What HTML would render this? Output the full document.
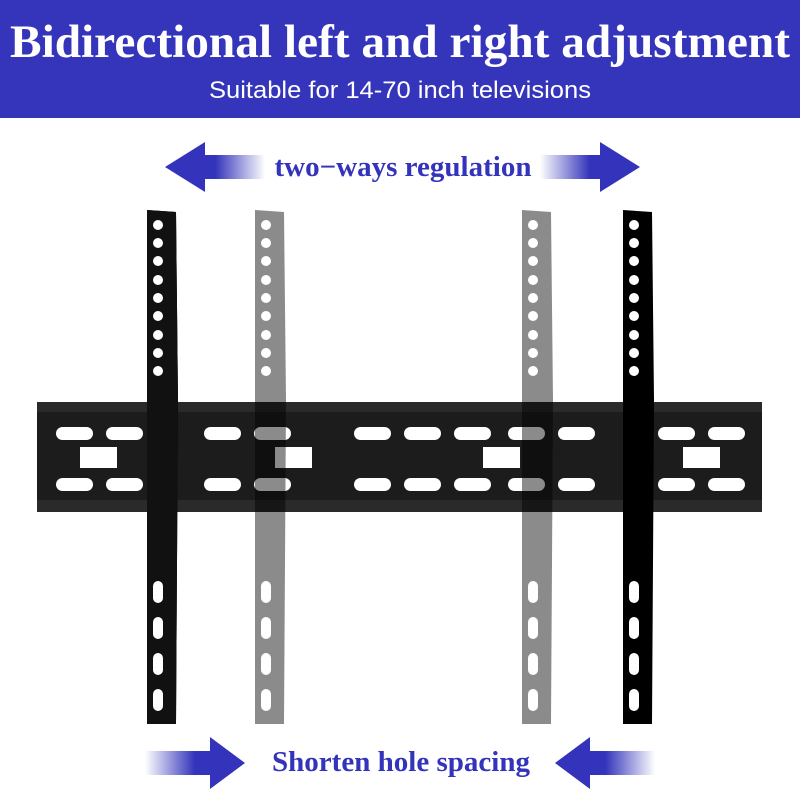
<!DOCTYPE html>
<html><head><meta charset="utf-8"><style>
html,body{margin:0;padding:0;background:#fff;width:800px;height:800px;overflow:hidden}
</style></head><body>
<svg width="800" height="800" viewBox="0 0 800 800" xmlns="http://www.w3.org/2000/svg">
<defs>
<linearGradient id="gl" x1="0" x2="1" y1="0" y2="0"><stop offset="0.5" stop-color="#3333bb"/><stop offset="1" stop-color="#3333bb" stop-opacity="0"/></linearGradient>
<linearGradient id="gr" x1="1" x2="0" y1="0" y2="0"><stop offset="0.5" stop-color="#3333bb"/><stop offset="1" stop-color="#3333bb" stop-opacity="0"/></linearGradient>
</defs>
<rect x="0" y="0" width="800" height="118" fill="#3535bb"/>
<text x="400" y="57" text-anchor="middle" font-family="Liberation Serif,serif" font-weight="bold" font-size="47" fill="#fff" textLength="780" lengthAdjust="spacingAndGlyphs">Bidirectional left and right adjustment</text>
<text x="400" y="98" text-anchor="middle" font-family="Liberation Sans,sans-serif" font-size="24" fill="#fff" textLength="382" lengthAdjust="spacingAndGlyphs">Suitable for 14-70 inch televisions</text>
<!-- top arrows -->
<polygon points="165,167 205,142 205,155 265,155 265,179 205,179 205,192" fill="url(#gl)"/>
<polygon points="640,167 600,142 600,155 540,155 540,179 600,179 600,192" fill="url(#gr)"/>
<text x="403" y="176" text-anchor="middle" font-family="Liberation Serif,serif" font-weight="bold" font-size="28" fill="#3333bb" textLength="257" lengthAdjust="spacingAndGlyphs">two−ways regulation</text>
<!-- bottom arrows -->
<polygon points="245,763 210,737 210,751 145,751 145,775 210,775 210,789" fill="url(#gr)"/>
<polygon points="555,763 590,737 590,751 655,751 655,775 590,775 590,789" fill="url(#gl)"/>
<text x="401" y="771" text-anchor="middle" font-family="Liberation Serif,serif" font-weight="bold" font-size="28" fill="#3333bb" textLength="258" lengthAdjust="spacingAndGlyphs">Shorten hole spacing</text>
<!-- rail -->
<rect x="37" y="402" width="725" height="110" fill="#1c1c1c"/>
<rect x="37" y="402" width="725" height="10" fill="#2a2a2a"/>
<rect x="37" y="500" width="725" height="12" fill="#2a2a2a"/>
<g fill="#fff">
<rect x="56" y="427" width="37" height="13" rx="6.5"/><rect x="106" y="427" width="37" height="13" rx="6.5"/><rect x="204" y="427" width="37" height="13" rx="6.5"/><rect x="254" y="427" width="37" height="13" rx="6.5"/><rect x="354" y="427" width="37" height="13" rx="6.5"/><rect x="404" y="427" width="37" height="13" rx="6.5"/><rect x="454" y="427" width="37" height="13" rx="6.5"/><rect x="508" y="427" width="37" height="13" rx="6.5"/><rect x="558" y="427" width="37" height="13" rx="6.5"/><rect x="658" y="427" width="37" height="13" rx="6.5"/><rect x="708" y="427" width="37" height="13" rx="6.5"/>
<rect x="56" y="478" width="37" height="13" rx="6.5"/><rect x="106" y="478" width="37" height="13" rx="6.5"/><rect x="204" y="478" width="37" height="13" rx="6.5"/><rect x="254" y="478" width="37" height="13" rx="6.5"/><rect x="354" y="478" width="37" height="13" rx="6.5"/><rect x="404" y="478" width="37" height="13" rx="6.5"/><rect x="454" y="478" width="37" height="13" rx="6.5"/><rect x="508" y="478" width="37" height="13" rx="6.5"/><rect x="558" y="478" width="37" height="13" rx="6.5"/><rect x="658" y="478" width="37" height="13" rx="6.5"/><rect x="708" y="478" width="37" height="13" rx="6.5"/>
<rect x="80" y="447" width="37" height="21"/><rect x="275" y="447" width="37" height="21"/><rect x="483" y="447" width="37" height="21"/><rect x="683" y="447" width="37" height="21"/>
</g>
<!-- arms -->
<g id="arm">
<path d="M147,210 L176,212 L178,400 L176,724 L147,724 Z"/>
<g fill="#fff">
<circle cx="158" cy="225" r="5"/><circle cx="158" cy="243" r="5"/><circle cx="158" cy="261" r="5"/><circle cx="158" cy="280" r="5"/><circle cx="158" cy="298" r="5"/><circle cx="158" cy="316" r="5"/><circle cx="158" cy="335" r="5"/><circle cx="158" cy="353" r="5"/><circle cx="158" cy="371" r="5"/>
<rect x="153" y="581" width="10" height="22" rx="5"/><rect x="153" y="617" width="10" height="22" rx="5"/><rect x="153" y="653" width="10" height="22" rx="5"/><rect x="153" y="689" width="10" height="22" rx="5"/>
</g>
</g>
<g fill="#111"><use href="#arm"/></g>
<g opacity="0.45"><use href="#arm" transform="translate(108,0)"/></g>
<g opacity="0.45"><use href="#arm" transform="translate(375,0)"/></g>
<g><use href="#arm" transform="translate(476,0)"/></g>
</svg>
</body></html>
